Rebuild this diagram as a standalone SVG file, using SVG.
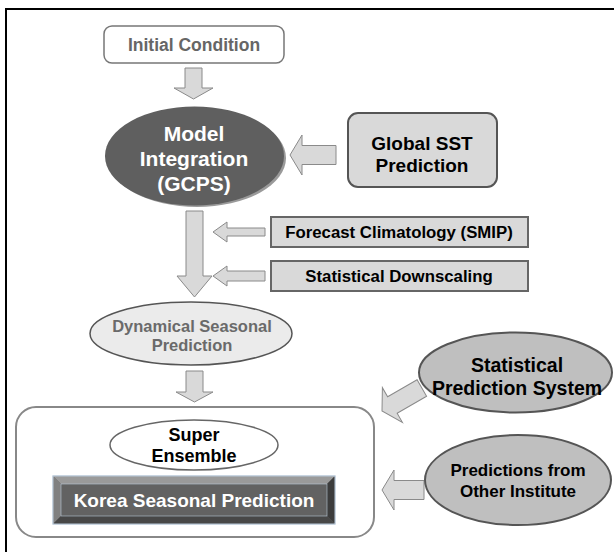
<svg xmlns="http://www.w3.org/2000/svg" width="614" height="552" viewBox="0 0 614 552">
<style>
text{font-family:"Liberation Sans",Arial,sans-serif;font-weight:bold;text-anchor:middle}
.arr{fill:#d9d9d9;stroke:#8a8a8a;stroke-width:1}
.box{fill:#d9d9d9;stroke:#666;stroke-width:2}
</style>
<rect width="614" height="552" fill="#fff"/>
<g id="frame" fill="none" stroke="#000" stroke-width="2">
<line x1="5" y1="9" x2="614" y2="9"/>
<line x1="6" y1="8" x2="6" y2="552"/>
</g>
<g id="connectors">
<polygon class="arr" points="185,68 202,68 202,88 213,88 193.5,99 174,88 185,88"/>
<polygon class="arr" points="290,155 302,135 302,145.5 336,145.5 336,164.5 302,164.5 302,175"/>
<polygon class="arr" points="186,211 203,211 203,276 212,276 194.5,297 177,276 186,276"/>
<polygon class="arr" points="213,232 227,222 227,228 265,228 265,236 227,236 227,242"/>
<polygon class="arr" points="213,276 227,266 227,271 265,271 265,281 227,281 227,286"/>
<polygon class="arr" points="186,371 203,371 203,392 213,392 194.5,402 176,392 186,392"/>
<polygon class="arr" transform="translate(382,411) rotate(-30)" points="0,0 12,-20 12,-9.5 46,-9.5 46,9.5 12,9.5 12,20"/>
<polygon class="arr" points="382,490 394,470 394,480.5 424,480.5 424,499.5 394,499.5 394,510"/>
</g>
<g id="initial">
<rect x="104" y="26" width="180" height="37" rx="8" fill="#fff" stroke="#777" stroke-width="1.5"/>
<text x="194" y="51" font-size="17.5" fill="#666">Initial Condition</text>
</g>
<g id="model">
<ellipse cx="197" cy="158" rx="89" ry="49" fill="#9a9a9a"/>
<ellipse cx="194.5" cy="156" rx="89.5" ry="49.5" fill="#5f5f5f"/>
<text font-size="21" fill="#fff"><tspan x="194" y="141">Model</tspan><tspan x="194" y="166">Integration</tspan><tspan x="194" y="191">(GCPS)</tspan></text>
</g>
<g id="sst">
<rect x="348" y="113" width="149" height="74" rx="10" fill="#d9d9d9" stroke="#555" stroke-width="2"/>
<text font-size="19" fill="#000"><tspan x="422" y="150">Global SST</tspan><tspan x="422" y="172">Prediction</tspan></text>
</g>
<g id="forecast">
<rect class="box" x="271" y="217" width="257" height="30"/>
<text x="399" y="238" font-size="16.8" fill="#000">Forecast Climatology (SMIP)</text>
</g>
<g id="downscaling">
<rect class="box" x="271" y="261" width="257" height="30"/>
<text x="399" y="282" font-size="16.8" fill="#000">Statistical Downscaling</text>
</g>
<g id="dynamical">
<ellipse cx="191" cy="333.5" rx="101" ry="31.5" fill="#ebebeb" stroke="#555" stroke-width="1.5"/>
<text font-size="16.5" fill="#6a6a6a"><tspan x="192" y="332">Dynamical Seasonal</tspan><tspan x="192" y="351">Prediction</tspan></text>
</g>
<g id="container">
<rect x="16" y="407" width="358" height="130" rx="20" fill="#fff" stroke="#888" stroke-width="2"/>
</g>
<g id="super">
<ellipse cx="194" cy="445" rx="84" ry="25" fill="#fff" stroke="#666" stroke-width="1.5"/>
<text font-size="18" fill="#000"><tspan x="194" y="441">Super</tspan><tspan x="194" y="462">Ensemble</tspan></text>
</g>
<g id="korea">
<rect x="53" y="476" width="282" height="48" fill="#626262" stroke="#b8c8d8" stroke-width="1"/>
<polygon points="53,476 335,476 327,484 61,484" fill="#9a9a9a"/>
<polygon points="53,476 61,484 61,516 53,524" fill="#808080"/>
<polygon points="335,476 335,524 327,516 327,484" fill="#3c3c3c"/>
<polygon points="53,524 61,516 327,516 335,524" fill="#474747"/>
<rect x="61" y="484" width="266" height="32" fill="#626262" stroke="#b8c8d8" stroke-width="0.6"/>
<rect x="53" y="476" width="282" height="48" fill="none" stroke="#b8c8d8" stroke-width="1"/>
<text x="194" y="507" font-size="19" fill="#fff">Korea Seasonal Prediction</text>
</g>
<g id="statistical">
<ellipse cx="515.5" cy="372.5" rx="96.5" ry="40" fill="#bfbfbf" stroke="#555" stroke-width="2"/>
<text font-size="19.5" fill="#000"><tspan x="517" y="372">Statistical</tspan><tspan x="517" y="395">Prediction System</tspan></text>
</g>
<g id="others">
<ellipse cx="518" cy="480" rx="93" ry="45" fill="#bfbfbf" stroke="#555" stroke-width="2"/>
<text font-size="17" fill="#000"><tspan x="518" y="476">Predictions from</tspan><tspan x="518" y="497">Other Institute</tspan></text>
</g>
</svg>
